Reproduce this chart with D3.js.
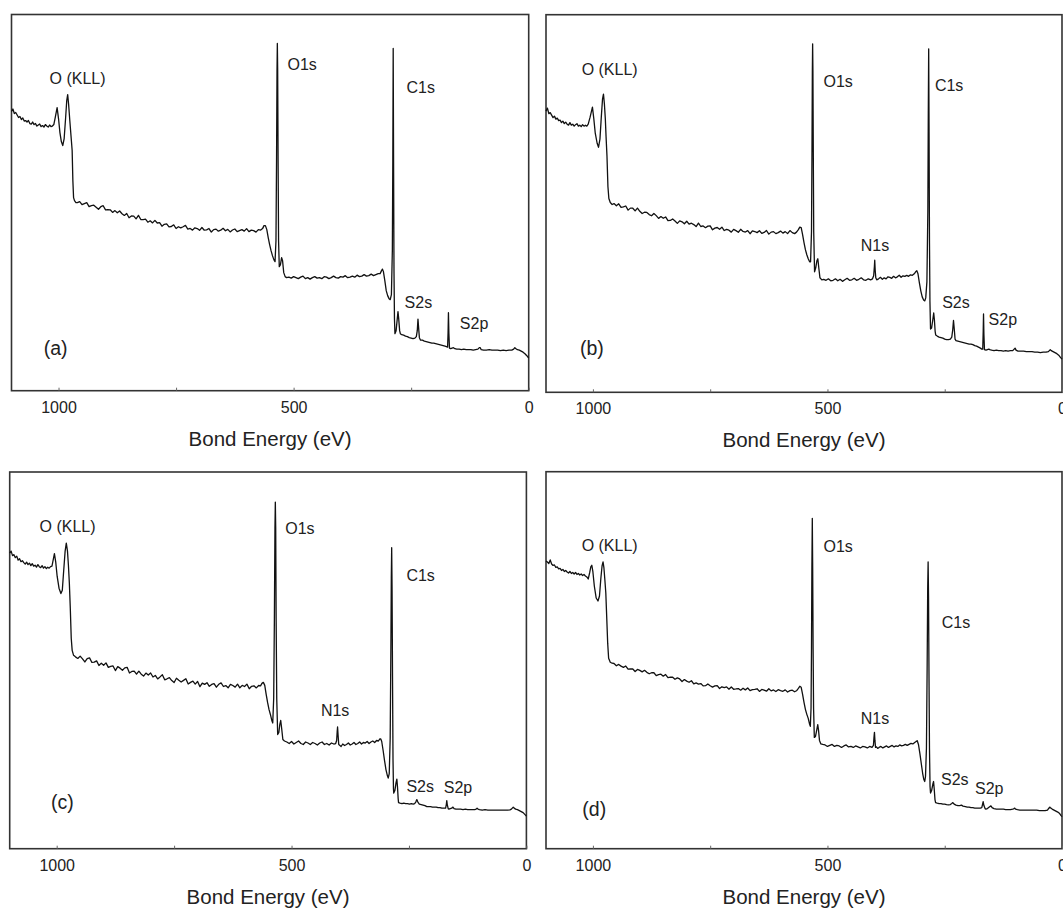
<!DOCTYPE html>
<html><head><meta charset="utf-8">
<script src="https://cdn.jsdelivr.net/npm/d3@7"></script>
<style>html,body{margin:0;padding:0;background:#fff;}svg{display:block;}</style>
</head><body>
<svg id="chart" width="1063" height="909"></svg>
<script>
// ---- Data: [binding energy (eV), intensity (a.u.)] ----
const spectrumA = [[1100,279],[1097,281.5],[1094,277],[1091,278],[1088,275.5],[1085,273],[1082,274],[1079,271],[1076,272.5],[1073,269.5],[1070,270],[1067,268.5],[1064,270],[1061,267],[1058,266.5],[1055,268.5],[1052,266],[1049,267],[1046,264.5],[1043,265.5],[1040,266.5],[1037,264],[1034,265],[1031,263.5],[1028,266],[1025,264.5],[1022,263.5],[1019,265.5],[1016,264],[1013,264.5],[1010,266],
[1007,273],[1003,283],[1000,272],[997,258],[994,249],[991,245],[988,252],[985,272],[982.5,290],[980.5,296],[978.5,286],[976,270],[973,252],[971,240],[969.5,210],[968,193],[966,190],[963,188],
[960,188],[955,189],[950,186],[945,187],[940,188],[935,184],[930,185],[925,185.4],[920,183.4],[915,181.4],[910,183.9],[905,184.9],[900,180.7],[895,181],[890,180.8],[885,178.2],[880,180],[875,177.8],[870,179.6],[865,176.9],[860,175.2],[855,177.1],[850,172.9],[845,174.7],[840,174.5],[835,171.8],[830,175.2],[825,171.1],[820,171],[815,171.4],[810,168.4],[805,169.8],[800,167.7],[795,170.2],[790,167.6],[785,168],[780,164.4],[775,166.3],[770,166.8],[765,163.7],[760,164.1],[755,165.8],[750,162.1],[745,163.9],[740,162.7],[735,163.9],[730,165.2],[725,161.5],[720,162.2],[715,160.5],[710,162.8],[705,162.1],[700,160.3],[695,163.1],[690,160.4],[685,160.7],[680,162.1],[675,158.6],[670,161],[665,161.5],[660,159.4],[655,160.4],[650,162.3],[645,159.8],[640,161.2],[635,158.7],[630,160.6],[625,161.6],[620,159],[615,160],[610,161],[605,159.5],[600,162],[595,159],[590,160.5],[585,160],[580,158.5],[575,161],[570,160.5],
[566,162],[563,165],[560,165],[557,161],[554,153],[551,146],[548,140],[545,135],[542,131],[539.5,129],[537.5,150],[536.3,230],[535.3,320],[534.6,347],[533.9,320],[533,230],[532,150],[530.5,124],[528,126],[525.5,133],[523.5,130],[521,118],[518,114],[515,113],
[510,113.5],[505,112.5],[500,114],[495,113],[490,112],[485,113.5],[480,114.5],[475,112],[470,113],[465,111.5],[460,113],[455,114],[450,112.5],[445,113],[440,112],[435,114],[430,113.5],[425,112],[420,113],[415,114.5],[410,113],[405,112.5],[400,114],[395,113.5],[390,115],[385,113],[380,113.5],[375,114.5],[370,113.5],[365,115.5],[360,114],[355,114.5],[350,116],[345,114.5],[340,115],[335,116.5],[330,115],[325,116],[320,117],
[316,117],[313,120],[311,121.5],[309,119],[306,110],[303,100],[300,95],[297,92],[294.5,91],[292,96],[290,140],[289,230],[288.2,342],[287.4,230],[286.5,120],[285.5,72],[284.5,57],[282,60],[279.5,72],[278,79],[276.5,72],[274.5,60],[273,57],
[270,56],[266,55.5],[262,54.5],[258,54],[254,53],[250,52.5],[246,52],[242,52.5],[239,54],[237,60],[235.5,71.5],[234,62],[232.5,53],[230,50.5],[226,50.5],[222,49.5],[218,49],[214,48.5],[210,48],[206,47.5],[202,47.5],[198,47],[194,46.5],[190,46],[186,45.5],[182,45],[178,44.5],[175,44],[172.5,43.5],[171.5,58],[170.7,78],[169.8,58],[168.5,42.5],[166,42],[163,42.5],[160,43],[157,42],[153,41.5],[148,41.5],[143,41],[138,41.5],[133,41],[128,41],[123,41],[118,40.5],[113,41],[108,41.5],[105,43],[103,43],[101,41],[96,40.5],[90,40.5],[84,41],[78,40.5],[72,40.5],[66,40.5],[60,40],[54,40.5],[48,40],[42,40.5],[36,40.5],[32,41.5],[29.5,43],[27,42],[24,41],[20,40.5],[16,39.5],[12,38.5],[8,37],[4,35],[0,32.5]];

const spectrumB = [[1100,280],[1097,283],[1094,277.5],[1091,278.5],[1088,276],[1085,273.5],[1082,275],[1079,272],[1076,273],[1073,270.5],[1070,271],[1067,268.5],[1064,270],[1061,267.5],[1058,269],[1055,267],[1052,266],[1049,268.5],[1046,266],[1043,267],[1040,265],[1037,266.5],[1034,267.5],[1031,265],[1028,266],[1025,264.5],[1022,266.5],[1019,265],[1016,266],[1013,265],[1010,267],
[1006,274],[1001,284],[998,272],[995,258],[991,248],[988,244],[985,252],[982,275],[979.5,292],[977.5,297],[975.5,287],[973.5,272],[972,255],[970,235],[968,205],[966,193],[963,189],[959,187],
[955,187.9],[950,185.8],[945,187.7],[940,184.1],[935,184.6],[930,185.5],[925,181.4],[920,183.4],[915,183.3],[910,180.6],[905,183.4],[900,180.2],[895,178],[890,179.3],[885,179.1],[880,177],[875,175.8],[870,178.1],[865,175.9],[860,173.2],[855,175],[850,173.3],[845,174.6],[840,171],[835,171.1],[830,172.6],[825,170.6],[820,168.2],[815,170.7],[810,169.8],[805,167.8],[800,170.3],[795,167.4],[790,168.4],[785,167],[780,165],[775,168.5],[770,165.1],[765,165.7],[760,163.9],[755,165.5],[750,165.7],[745,161.8],[740,163.5],[735,164.1],[730,162.3],[725,164.4],[720,161.1],[715,162.2],[710,161.4],[705,159.5],[700,162.2],[695,161],[690,159.4],[685,162.3],[680,160.2],[675,159.6],[670,161],[665,157.9],[660,160.8],[655,160.1],[650,159],[645,160.9],[640,158.3],[635,159.2],[630,161.1],[625,157.5],[620,159.5],[615,160],[610,158],[605,159],[600,160.5],[595,158.5],[590,160],[585,158],[580,161],[575,159],[570,158],
[566,159.5],[562,162],[559,164.5],[556,164],[553,157],[550,149],[547,142],[544,137],[541,133],[538,130],[536,130],[534,160],[533,240],[532.2,320],[531.6,347],[531,320],[530.2,240],[529.3,160],[527.5,120],[525,124],[522.5,131],[520.5,133],[518.5,124],[516,114],[512,112],
[508,112.5],[503,111.5],[498,113],[493,111],[488,111.5],[483,113],[478,111],[473,112.5],[468,110.5],[463,112],[458,113.5],[453,111.5],[448,112],[443,113.5],[438,111.5],[433,112.5],[428,114],[423,112],[418,111.5],[413,113],[408,112],[404,113],[401.5,116],[400,125],[399.2,131.5],[398.3,122],[397,114],[395,112],[391,113],[387,114.5],[383,112.5],[379,114],[375,113],[371,115],[367,114.5],[363,113.5],[359,115.5],[355,114],[351,115],[347,116.5],[343,114.5],[339,116],[335,115.5],[331,116.5],[327,115.5],[323,117],[319,116.5],[315,118],
[312,120],[309.5,121],[307,118],[304,109],[301,101],[298,95],[295,92],[292.5,91],[290.5,94],[288,110],[286,180],[285,280],[284.2,342],[283.4,260],[282.5,150],[281.5,90],[280.3,63],[278,64],[275.5,72],[273.5,79],[272,72],[270.5,61],[269.2,57],
[266,56],[262,55],[258,54.5],[254,54],[250,53],[246,52.5],[242,52.5],[238,53],[235,55],[233,62],[231.3,71.5],[229.5,62],[228,53],[226,51.5],[222,51],[218,50.5],[214,50],[210,49.5],[206,49],[202,48.5],[198,48],[194,48],[190,47.5],[186,46.5],[182,46],[178,45],[174,44],[171,43],[169,43],[168,60],[167.3,78],[166.5,58],[165.3,42.5],[162,42],[159,42.5],[156,43],[154,42.5],[150,42],[145,41.5],[140,42],[135,41.5],[130,41.5],[125,41],[120,41.5],[115,41],[110,41.5],[105,41.5],[102,43],[100,44],[98,42],[94,41],[88,41],[82,41],[76,40.5],[70,40.5],[64,40.5],[58,40],[52,40],[46,39.5],[40,40],[34,40],[29,40.5],[27,41.5],[25,42.5],[23,41.5],[19,40.5],[15,39.5],[11,38.5],[7,37],[3,34.5],[0,33]];

const spectrumC = [[1100,295],[1097,297],[1094,292.5],[1091,293.5],[1088,290.5],[1085,292],[1082,288],[1079,289.5],[1076,286.5],[1073,287.5],[1070,285.5],[1067,284],[1064,286],[1061,283.5],[1058,285],[1055,282.5],[1052,284.5],[1049,282],[1046,283],[1043,281],[1040,283.5],[1037,281.5],[1034,280.5],[1031,282.5],[1028,280],[1025,281.5],[1022,279.5],[1019,281],[1016,280],[1013,281.5],[1010,282],
[1007.5,288],[1004.8,294.5],[1002,286],[999,272],[995,260],[991,254.7],[988,258],[985,278],[982,297],[979.5,305],[977,297],[975,283],[973,265],[971,240],[969,210],[967,198],[964,193],[960,191.5],
[955,189.9],[950,192.2],[945,189.5],[940,186.4],[935,189.7],[930,190.5],[925,185.9],[920,186.2],[915,187.5],[910,182.9],[905,185.2],[900,183.1],[895,185.5],[890,181],[885,181.9],[880,182.4],[875,177.8],[870,181.7],[865,180.2],[860,178.1],[855,180.5],[850,181],[845,175.4],[840,176.9],[835,177.3],[830,174.2],[825,177.2],[820,174.2],[815,172.3],[810,175.3],[805,173.3],[800,175.4],[795,171.4],[790,172.9],[785,169.5],[780,171.5],[775,173.6],[770,168.6],[765,169.6],[760,170.7],[755,167.8],[750,165.9],[745,170.1],[740,168.2],[735,166.4],[730,168],[725,169.7],[720,164.4],[715,166],[710,167.2],[705,164.3],[700,167],[695,161.7],[690,165.3],[685,164],[680,165.7],[675,162.1],[670,164],[665,164.8],[660,161.2],[655,164.1],[650,165.5],[645,161.9],[640,162.8],[635,160.6],[630,164],[625,162.9],[620,161.3],[615,164.2],[610,160.6],[605,163],[600,161.9],[595,164.3],[590,159.7],[585,162.1],[580,162.6],[575,160.5],[570,162.9],
[566,162.5],[563,165],[560,166],[557,163],[554,154],[551,146],[548,139],[545,134],[542,128],[540,125.5],[538,150],[536.5,230],[535.3,320],[534.5,346],[533.7,320],[532.8,230],[531.5,150],[529.5,114],[527,116],[525,124],[523,128],[521,120],[518.5,109],[515,107.5],
[510,106.5],[505,105],[500,107],[495,104.5],[490,106],[485,107.5],[480,105],[475,104],[470,106.5],[465,105.5],[460,104],[455,106],[450,105],[445,103.5],[440,105.5],[435,106.5],[430,104],[425,105],[420,103.5],[415,105.5],[410,104.5],[406,105],[404,108],[402.8,117],[402,121.5],[401,114],[399.5,104],[397,103],[394.5,102],[391,104.5],[387,103],[383,104],[379,105.5],[375,103.5],[371,104.5],[367,106],[363,104],[359,105],[355,106.5],[351,104.5],[347,106],[343,105.5],[339,107],[335,105],[331,106.5],[327,107.5],[323,106],[319,108],[315,107.5],
[312,109.5],[310,109.5],[308,107],[305,98],[302,88],[299,79],[296,73],[294.2,70.5],[292,75],[290,110],[288.5,200],[287.6,270],[286.8,300.5],[286,260],[285,170],[284,90],[283,60],[282.4,55.5],[280,58],[277.5,66],[275.8,69.5],[274.5,62],[273,50],[272.2,46],
[269,45.5],[265,45],[261,45.5],[257,45],[253,45],[249,44.5],[245,45],[241,44.5],[238,45],[235.5,46.5],[233.3,49],[231,46.5],[228,44.5],[224,44],[220,43.5],[216,43],[212,42],[208,42],[204,42],[200,41.5],[196,41.5],[192,41.5],[188,41],[184,41],[180,40.5],[176,40.5],[172,40.5],[170.5,44],[169.5,48],[168.5,44],[166.5,40],[165,39.5],[162,40],[159,40.5],[156.3,41.5],[154,40],[150,39.5],[145,39.5],[140,39.5],[135,39],[130,39.5],[125,39],[120,39],[115,39],[110,39],[107,39.5],[105,40.5],[103,39.5],[100,39],[94,38.5],[88,39],[82,38.5],[76,38.5],[70,38.5],[64,38.5],[58,38.5],[52,38.5],[46,38.5],[40,38.5],[35,38.7],[32,39.5],[30,40.5],[28,41.5],[26,40.5],[23,39.5],[19,39],[15,38],[11,37],[7,36],[3,34],[0,32.5]];

const spectrumD = [[1100,287],[1097,286],[1094,284.5],[1091,288],[1088,284],[1085,282.5],[1082,283],[1079,280.5],[1076,281],[1073,279],[1070,279.5],[1067,277.5],[1064,278.5],[1061,276.5],[1058,277.5],[1055,276],[1052,275],[1049,276.5],[1046,274.5],[1043,275.5],[1040,274],[1037,275.5],[1034,273.5],[1031,274.5],[1028,273],[1025,274],[1022,272.5],[1019,273.5],[1016,272],[1013,271],[1010,269],
[1007,275],[1004.5,281],[1002.3,282.7],[1000,276],[997,262],[993,250],[989.2,247],[986,252],[983,270],[980.5,282],[978.4,286],[976.5,280],[974.5,268],[972.5,255],[970.5,230],[968.5,205],[966.5,190],[963,186],[959,185],
[955,184.7],[950,182.5],[945,183.8],[940,182.1],[935,180.9],[930,182.2],[925,179],[920,179.3],[915,179.2],[910,176.7],[905,178.8],[900,177.8],[895,176.4],[890,177.9],[885,175.9],[880,174.5],[875,175.5],[870,175.5],[865,172.6],[860,173.6],[855,174.1],[850,172.1],[845,173.7],[840,170.7],[835,171.1],[830,171],[825,169],[820,170.4],[815,169.3],[810,166.8],[805,168.7],[800,167.1],[795,166],[790,167.5],[785,164.4],[780,165.3],[775,164.2],[770,164.7],[765,162.4],[760,162.6],[755,164.3],[750,162.5],[745,161.2],[740,162.4],[735,162.6],[730,159.8],[725,161.5],[720,160.7],[715,161.4],[710,159.1],[705,161.3],[700,159],[695,159.3],[690,159.7],[685,158.1],[680,160],[675,158.4],[670,160.3],[665,157.7],[660,158.6],[655,159],[650,159.5],[645,156.9],[640,158.8],[635,158.2],[630,157.1],[625,159.5],[620,157.4],[615,158.3],[610,156.7],[605,158.6],[600,157.6],[595,157],[590,158.4],[585,156.3],[580,157.7],[575,158.1],[570,156.5],
[566,157.5],[562,160],[559,162],[556,161],[553,154],[550,146],[547,139],[544,134],[541,130],[538,124],[536.5,122],[535,140],[534,200],[533.2,280],[532.3,329.5],[531.5,280],[530.6,200],[529.6,140],[528,111],[525.5,112],[523,118],[520.7,123.7],[519,118],[517,108],[514,104.5],
[510,104],[505,103.5],[500,102],[495,103],[490,104],[485,102],[480,103],[475,102.5],[470,101],[465,102.5],[460,103.5],[455,101.5],[450,102],[445,101],[440,102.5],[435,101.5],[430,100.5],[425,102],[420,101.5],[415,100.5],[410,102],[405,101],[402,103],[400.8,111],[399.8,116],[398.8,108],[397.5,101],[395.5,101.5],[393,100],[390,101],[386,102],[382,100.5],[378,101.5],[374,102.5],[370,101],[366,102],[362,103],[358,101.5],[354,102.5],[350,102],[346,103.5],[342,102.5],[338,103],[334,104],[330,103],[326,104],[322,105],[318,104.5],[314,106],
[311,107],[308.6,107.7],[306,104],[303,95],[300,85],[297,75],[294.5,69],[292.6,67],[291,72],[289,100],[287.5,180],[286.3,260],[285.4,286],[284.5,250],[283.5,170],[282.5,100],[281.3,62],[280.3,55.5],[278,58],[275.5,64],[273.8,67],[272.5,60],[270.8,49],[269.5,46],
[266,45.5],[262,45],[258,45],[254,44.5],[250,44.5],[246,44],[242,43.7],[238,44],[235,45],[232.6,46],[230,44.5],[226,43.5],[222,43],[218,43],[214.4,43.5],[211,42.5],[206,42],[202,41.5],[198,41.5],[194,41],[190,41],[186,40.5],[182,40.5],[178,40.5],[174,40.5],[171,41],[169.5,44],[168.1,47],[166.5,43],[164,40],[162.3,39.5],[159,40],[155,41.5],[151.5,42.7],[149,41],[145,40],[140,39.5],[135,39.5],[130,39.5],[125,39.5],[120,39],[115,39],[110,39],[105,39.5],[102,40],[100.8,40.5],[99,39.5],[95,39],[90,38.5],[84,38.5],[78,38.5],[72,38.5],[66,38.5],[60,38.5],[54,38.5],[48,38],[42,38],[36,38],[31,38.5],[28,40.5],[26.2,41.5],[24,40.5],[21,39.5],[17,38.5],[13,37.5],[9,36.5],[5,35],[2,33],[0,32]];

// peak labels: [text, energy at text start (eV), intensity at baseline]
const labelsA = [["O (KLL)",1019,307],["O1s",513,320.5],["C1s",260,298],["S2s",264,83],["S2p",146.5,61.5]];
const labelsB = [["O (KLL)",1024,315.5],["O1s",508.5,304.5],["C1s",271,300.5],["N1s",429,141],["S2s",255.5,83.5],["S2p",156.5,67]];
const labelsC = [["O (KLL)",1036.5,316.5],["O1s",513.5,314.5],["C1s",255.5,267.5],["N1s",437.5,132],["S2s",255.5,56.5],["S2p",176,55.5]];
const labelsD = [["O (KLL)",1024,296.5],["O1s",508.5,296],["C1s",256.5,220],["N1s",429,124.5],["S2s",258,63.5],["S2p",185.5,54.5]];
const panelTags = [["(a)",1031.5,36],["(b)",1027.5,37.5],["(c)",1012,39.5],["(d)",1022.5,33]];
const majorTicks = [1000,500,0];
const allTicks = [1000,750,500,250,0];
const xDomain = [1100,0];
const yDomain = [0,376];
const xTitle = "Bond Energy (eV)";

// ---- Layout ----
const layout = [
  {left:11.5, top:14.5, width:517.2, height:376.2},
  {left:546,  top:14.7, width:516,   height:377.6},
  {left:9.7,  top:472,  width:516.7, height:376.7},
  {left:546,  top:471.7,width:516,   height:377}
];
const spectra = [spectrumA, spectrumB, spectrumC, spectrumD];
const labelSets = [labelsA, labelsB, labelsC, labelsD];
const FONT = "'Liberation Sans', Arial, Helvetica, sans-serif";

const svg = d3.select("#chart");

layout.forEach((L, i) => {
  const x = d3.scaleLinear().domain(xDomain).range([L.left, L.left + L.width]);
  const y = d3.scaleLinear().domain(yDomain).range([L.top + L.height, L.top]);
  const g = svg.append("g");
  const bottom = L.top + L.height;

  g.append("rect").attr("x", L.left).attr("y", L.top)
    .attr("width", L.width).attr("height", L.height)
    .attr("fill", "none").attr("stroke", "#333").attr("stroke-width", 1.6);

  const ax = d3.axisBottom(x).tickValues(allTicks)
    .tickFormat(d => majorTicks.includes(d) ? String(d) : "")
    .tickSizeInner(-3).tickSizeOuter(0).tickPadding(10.5);
  const axg = g.append("g").attr("transform", `translate(0,${bottom})`).call(ax);
  axg.select(".domain").remove();
  axg.selectAll(".tick line").attr("stroke", "#666").attr("stroke-width", 1);
  axg.selectAll(".tick text").attr("font-family", FONT).attr("font-size", 16).attr("fill", "#222");

  g.append("text").attr("x", L.left + L.width / 2).attr("y", bottom + 55)
    .attr("text-anchor", "middle").attr("font-family", FONT).attr("font-size", 20.5)
    .attr("fill", "#222").text(xTitle);

  const line = d3.line().x(d => x(d[0])).y(d => y(d[1]));
  g.append("path").datum(spectra[i]).attr("d", line)
    .attr("fill", "none").attr("stroke", "#111").attr("stroke-width", 1.3)
    .attr("stroke-linejoin", "round");

  g.selectAll("text.peak").data(labelSets[i]).enter().append("text")
    .attr("class", "peak")
    .attr("x", d => x(d[1])).attr("y", d => y(d[2]))
    .attr("font-family", FONT).attr("font-size", 16).attr("fill", "#222")
    .text(d => d[0]);

  const t = panelTags[i];
  g.append("text").attr("x", x(t[1])).attr("y", y(t[2]))
    .attr("font-family", FONT).attr("font-size", 19.5).attr("fill", "#222").text(t[0]);
});
</script>
</body></html>
